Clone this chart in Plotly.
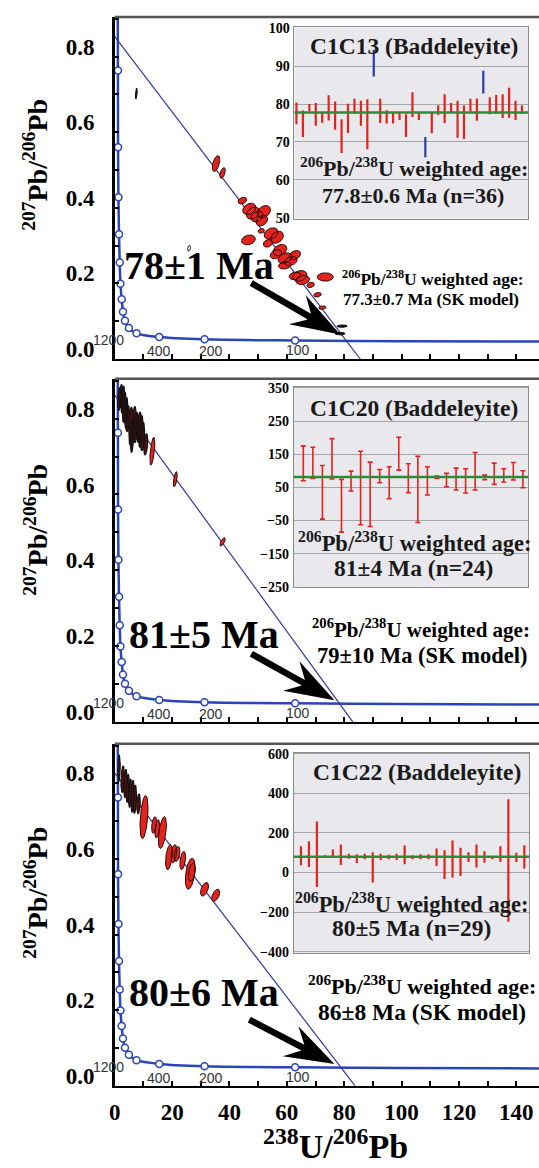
import numpy as np
import plotly.graph_objects as go

W, H = 539, 1168

# ---------------- data ----------------
# Tera-Wasserburg concordia: marker points (238U/206Pb, 207Pb/206Pb)
conc_mark_x = [1.10, 1.14, 1.28, 1.48, 1.72, 1.97, 2.41, 2.86, 3.55, 4.93, 7.59, 15.5, 31.3, 62.9]
conc_mark_y = [0.763, 0.560, 0.428, 0.330, 0.255, 0.199, 0.158, 0.125, 0.101, 0.082, 0.068, 0.058, 0.052, 0.049]
conc_top_x, conc_top_y = [1.02], [0.95]
conc_tail_x, conc_tail_y = [100.0, 150.0], [0.047, 0.046]
conc_age_labels = ["1200", "400", "200", "100"]

# discordia (regression) lines: y-intercept and x-intercept, per panel
disc_y0 = [0.853, 0.862, 0.827]
disc_xint = [85.6, 83.0, 83.8]

# error ellipses: (x, y, half-err x, half-err y, correlation)
ell1_red = [
    (35.3, 0.517, 1.3, 0.021, 0.5), (37.6, 0.492, 0.95, 0.014, 0.5),
    (44.5, 0.419, 1.5, 0.009, 0.3), (46.9, 0.397, 2.3, 0.015, 0.3),
    (48.2, 0.386, 2.3, 0.016, 0.3), (49.6, 0.377, 2.1, 0.014, 0.3),
    (52.0, 0.390, 2.3, 0.016, 0.3), (51.3, 0.366, 2.0, 0.014, 0.3),
    (51.1, 0.339, 1.1, 0.006, 0.2), (46.6, 0.315, 2.4, 0.013, 0.2),
    (54.5, 0.332, 2.4, 0.015, 0.3), (56.6, 0.322, 2.2, 0.016, 0.3),
    (53.4, 0.306, 1.6, 0.010, 0.2), (57.6, 0.288, 2.4, 0.015, 0.3),
    (56.2, 0.277, 2.0, 0.012, 0.3), (59.3, 0.267, 2.4, 0.014, 0.3),
    (62.8, 0.275, 2.0, 0.012, 0.3), (61.4, 0.259, 2.2, 0.012, 0.3),
    (59.3, 0.248, 2.2, 0.010, 0.2), (64.5, 0.220, 2.5, 0.014, 0.2),
    (65.5, 0.209, 2.4, 0.012, 0.2), (62.8, 0.220, 2.0, 0.010, 0.2),
    (68.3, 0.196, 1.3, 0.007, 0.2), (73.4, 0.217, 2.8, 0.011, 0.0),
    (70.7, 0.170, 1.3, 0.006, 0.2), (72.4, 0.136, 1.3, 0.0045, 0.2),
]
ell1_dark = [
    (79.3, 0.087, 1.7, 0.003, 0.0), (78.6, 0.067, 1.7, 0.003, 0.0),
    (7.5, 0.702, 0.3, 0.014, 0.6),
]
ell1_open = [(25.9, 0.293, 0.5, 0.008, 0.3)]

ell2_dark = [
    (1.6, 0.852, 0.6, 0.030, 0.3), (2.2, 0.860, 0.5, 0.030, 0.3),
    (2.8, 0.850, 0.7, 0.036, 0.3), (3.3, 0.830, 0.7, 0.040, 0.3),
    (4.0, 0.815, 0.6, 0.040, 0.3), (4.5, 0.800, 0.7, 0.034, 0.3),
    (5.6, 0.780, 0.7, 0.050, 0.3), (6.0, 0.755, 0.6, 0.044, 0.3),
    (6.8, 0.790, 0.7, 0.042, 0.3), (7.3, 0.777, 0.8, 0.040, 0.4),
    (8.5, 0.777, 0.8, 0.040, 0.4), (9.1, 0.766, 0.8, 0.042, 0.4),
    (9.7, 0.753, 0.7, 0.037, 0.4), (10.8, 0.732, 0.7, 0.028, 0.4),
]
ell2_red = [
    (13.1, 0.714, 0.86, 0.037, 0.6), (21.1, 0.640, 0.7, 0.020, 0.6),
    (37.6, 0.475, 0.93, 0.011, 0.7),
]

ell3_dark = [
    (1.5, 0.840, 0.4, 0.035, 0.3), (2.76, 0.811, 0.6, 0.035, 0.3),
    (3.7, 0.800, 0.6, 0.037, 0.3), (4.5, 0.787, 0.6, 0.037, 0.3),
    (5.3, 0.774, 0.6, 0.037, 0.3), (6.2, 0.766, 0.6, 0.042, 0.3),
    (7.0, 0.758, 0.6, 0.037, 0.3), (8.3, 0.746, 0.6, 0.026, 0.3),
]
ell3_red = [
    (10.2, 0.711, 1.4, 0.057, 0.4), (13.7, 0.690, 0.86, 0.022, 0.4),
    (14.8, 0.680, 0.86, 0.024, 0.4), (16.6, 0.670, 1.4, 0.042, 0.5),
    (18.9, 0.605, 1.2, 0.033, 0.4), (20.6, 0.614, 1.0, 0.024, 0.4),
    (21.7, 0.613, 1.0, 0.020, 0.4), (23.7, 0.596, 1.0, 0.024, 0.4),
    (26.3, 0.561, 1.7, 0.041, 0.4), (26.9, 0.565, 1.2, 0.024, 0.4),
    (31.3, 0.520, 1.4, 0.018, 0.5), (35.2, 0.504, 1.4, 0.016, 0.5),
]

# inset weighted-age plots: high / low of each analysis (Ma)
in1_hi = [80.4, 78.3, 80.0, 80.3, 77.9, 82.3, 80.7, 76.0, 80.1, 81.4, 80.9, 81.3, 94.3, 81.4, 78.4, 77.7, 78.0, 77.3,
          83.1, 77.7, 71.3, 77.9, 79.7, 82.6, 80.3, 80.9, 79.6, 81.4, 81.5, 88.8, 81.8, 82.4, 82.6, 84.3, 80.9, 79.6]
in1_lo = [74.7, 71.3, 78.1, 74.3, 75.1, 75.7, 73.2, 67.1, 72.4, 77.4, 74.3, 68.1, 87.3, 75.0, 74.9, 74.9, 75.8, 71.3,
          76.6, 75.8, 66.0, 72.3, 77.1, 75.0, 77.7, 71.1, 70.8, 78.0, 75.6, 82.8, 77.3, 77.4, 76.3, 76.4, 75.8, 77.4]
in1_rejected = [13, 21, 30]
in1_mean = 77.8

in2_hi = [175, 171, 116, 197, 74, 99, 159, 126, 104, 112, 201, 121, 144, 112, 84, 92, 108, 106, 155, 87, 123, 106, 125, 100]
in2_lo = [70, 77, -46, 75, -85, 39, -63, -68, 64, 16, 102, 34, -56, 27, 77, 52, 42, 33, 42, 73, 59, 66, 72, 49]
in2_mean = 81

in3_hi = [133, 158, 258, 87, 117, 142, 95, 92, 95, 103, 95, 90, 95, 137, 87, 92, 92, 122, 113, 162, 125, 103, 142,
          108, 80, 133, 370, 100, 138]
in3_lo = [37, 28, -73, 73, 78, 38, 70, 48, 67, -50, 63, 67, 63, 42, 67, 67, 67, 33, -33, -25, -17, 53, 25,
          50, 67, 55, -248, 53, 20]
in3_mean = 80

samples = ["C1C13 (Baddeleyite)", "C1C20 (Baddeleyite)", "C1C22 (Baddeleyite)"]
weighted_ages = ["77.8±0.6 Ma (n=36)", "81±4 Ma (n=24)", "80±5 Ma (n=29)"]
sk_ages = ["77.3±0.7 Ma (SK model)", "79±10 Ma (SK model)", "86±8 Ma (SK model)"]
intercept_ages = ["78±1 Ma", "81±5 Ma", "80±6 Ma"]

x_tick_vals = [0, 20, 40, 60, 80, 100, 120, 140]
y_tick_vals = [0.0, 0.2, 0.4, 0.6, 0.8]
y_tick_text = ["0.0", "0.2", "0.4", "0.6", "0.8"]
in_tick_vals = [[50, 60, 70, 80, 90, 100],
                [-250, -150, -50, 50, 150, 250, 350],
                [-400, -200, 0, 200, 400, 600]]

# ---------------- styling / layout helpers ----------------
SERIF = "Liberation Serif"
RED = "#e3231c"
BLUE = "#2a45b8"
LINE_BLUE = "#34389a"
KX, KY = 2.9, 382.5           # px per data unit in the main panels
XMAX = 429 / KX
YMAX = 0.905


def P(px):
    return px / W


def Q(py):
    return 1 - py / H


def axn(n):
    s = "" if n == 1 else str(n)
    return "x" + s, "y" + s, "xaxis" + s, "yaxis" + s


main_dom_y = [[Q(357), Q(11)], [Q(724), Q(377)], [Q(1092), Q(746)]]
panel_bottom = [357, 724, 1092]
in_dom = [([P(291.7), P(528.3)], [Q(215), Q(21.7)]),
          ([P(291), P(528)], [Q(588), Q(385)]),
          ([P(291), P(529)], [Q(958), Q(755)])]
in_xrange = [[0.69, 37.0], [0.0, 24.55], [0.1, 29.6]]
in_yrange = [[49.8, 100.2], [-252, 353.6], [-408, 606]]


def ell_trace(lst, xa, ya, fill, line, lw=1.0):
    xs, ys = [], []
    t = np.linspace(0, 2 * np.pi, 60)
    for (cx, cy, sx, sy, r) in lst:
        xs += list(cx + sx * np.cos(t)) + [None]
        ys += list(cy + sy * (r * np.cos(t) + np.sqrt(1 - r * r) * np.sin(t))) + [None]
    return go.Scatter(x=xs, y=ys, mode="lines", fill="toself", fillcolor=fill,
                      line=dict(color=line, width=lw), xaxis=xa, yaxis=ya,
                      hoverinfo="skip", showlegend=False)


def arrow_path(tail, tip, L=50, Wd=34, sw=6.5, notch=0.72):
    X0, Y0 = tail[0] * KX, tail[1] * KY
    X1, Y1 = tip[0] * KX, tip[1] * KY
    d = np.hypot(X1 - X0, Y1 - Y0)
    ux, uy = (X1 - X0) / d, (Y1 - Y0) / d
    nx, ny = -uy, ux
    pts = [(X1, Y1),
           (X1 - L * ux + Wd / 2 * nx, Y1 - L * uy + Wd / 2 * ny),
           (X1 - notch * L * ux + sw / 2 * nx, Y1 - notch * L * uy + sw / 2 * ny),
           (X0 + sw / 2 * nx, Y0 + sw / 2 * ny),
           (X0 - sw / 2 * nx, Y0 - sw / 2 * ny),
           (X1 - notch * L * ux - sw / 2 * nx, Y1 - notch * L * uy - sw / 2 * ny),
           (X1 - L * ux - Wd / 2 * nx, Y1 - L * uy - Wd / 2 * ny)]
    return "M " + " L ".join(f"{x / KX:.4f},{y / KY:.5f}" for x, y in pts) + " Z"


def text_ann(px, py, txt, size, color="black", bold=True, family=SERIF, xanchor="center", angle=0):
    return dict(x=P(px), y=Q(py), xref="paper", yref="paper", xanchor=xanchor, yanchor="middle",
                text=txt, showarrow=False, textangle=angle,
                font=dict(family=family, size=size, color=color, weight="bold" if bold else "normal"))


fig = go.Figure()
layout = dict(width=W, height=H, margin=dict(l=0, r=0, t=0, b=0),
              font=dict(family=SERIF, color="black"),
              paper_bgcolor="white", plot_bgcolor="rgba(0,0,0,0)", showlegend=False)
shapes, annotations = [], []

conc_line_x = conc_top_x + conc_mark_x + conc_tail_x
conc_line_y = conc_top_y + conc_mark_y + conc_tail_y

ell_sets = [(ell1_red, ell1_dark, ell1_open), (ell2_red, ell2_dark, []), (ell3_red, ell3_dark, [])]
arrows = [((47.6, 0.201), (78.6, 0.065)), ((47.6, 0.180), (76.6, 0.0575)), ((46.9, 0.175), (76.6, 0.0575))]
big_label_pos = [(117, 262), (122, 636), (122, 998)]
sk_pos = [((432, 275.5), (430, 297), 17.5, 17), ((420, 630), (421, 657), 21, 22.5),
          ((421, 990), (421, 1017), 22, 23.5)]
in_text_pos = [((413, 40), (413, 163), (412, 192)),
               ((413, 407), (414, 542), (412, 568)),
               ((416, 775), (411, 907), (410, 932))]
in_text_size = [(23.5, 22, 22), (23.5, 22.5, 23.5), (23.5, 22.5, 23.5)]
ytitle_pos = [161, 530, 897]
conc_label_px = [(104, 19.5), (155, 8), (207, 8), (295, 9)]

for i in range(3):
    n = i + 1
    xa, ya, xk, yk = axn(n)
    # concordia
    fig.add_trace(go.Scatter(x=conc_line_x, y=conc_line_y, mode="lines",
                             line=dict(color=BLUE, width=2.5, shape="spline", smoothing=0.8),
                             xaxis=xa, yaxis=ya, hoverinfo="skip"))
    # discordia
    fig.add_trace(go.Scatter(x=[0, disc_xint[i]], y=[disc_y0[i], 0], mode="lines",
                             line=dict(color=LINE_BLUE, width=1.2), xaxis=xa, yaxis=ya, hoverinfo="skip"))
    red, dark, opn = ell_sets[i]
    if dark:
        fig.add_trace(ell_trace(dark, xa, ya, "#5a1010" if i != 0 else "#111111", "#111111", 1.2))
    if red:
        fig.add_trace(ell_trace(red, xa, ya, RED, "#2a0a0a", 1.0))
    if opn:
        fig.add_trace(ell_trace(opn, xa, ya, "white", "#222222", 1.0))
    fig.add_trace(go.Scatter(x=conc_mark_x, y=conc_mark_y, mode="markers",
                             marker=dict(size=7, color="white", line=dict(color=BLUE, width=1.5)),
                             xaxis=xa, yaxis=ya, hoverinfo="skip"))

    layout[xk] = dict(
        domain=[P(110), 1.0], range=[0, XMAX], anchor=ya, showline=True, linecolor="black", linewidth=2,
        ticks="inside", ticklen=5, tickwidth=1.5, tickcolor="black", tickvals=x_tick_vals,
        showticklabels=(n == 3), showgrid=False, zeroline=False,
        minor=dict(ticks="inside", ticklen=5, tickwidth=1.5, tickcolor="black", dtick=10, showgrid=False),
        tickfont=dict(family=SERIF, size=23, color="black", weight="bold"), ticklabelstandoff=5)
    layout[yk] = dict(
        domain=main_dom_y[i], range=[0, YMAX], anchor=xa, showline=True, linecolor="black", linewidth=2.5,
        ticks="inside", ticklen=4, tickwidth=1.5, tickcolor="black", tickvals=y_tick_vals, ticktext=y_tick_text,
        showgrid=False, zeroline=False,
        minor=dict(ticks="inside", ticklen=4, tickwidth=1.5, tickcolor="black", dtick=0.1, showgrid=False),
        tickfont=dict(family=SERIF, size=23, color="black", weight="bold"),
        ticklabelstandoff=13, ticklabelshift=-10)

    # top border
    shapes.append(dict(type="line", xref=f"{xa} domain", yref=f"{ya} domain", x0=0, x1=1, y0=1, y1=1,
                       line=dict(color="#555555", width=2.5)))
    # arrow
    shapes.append(dict(type="path", xref=xa, yref=ya, path=arrow_path(*arrows[i]),
                       fillcolor="black", line=dict(width=0)))

    # concordia age labels
    for txt, (lx, dy) in zip(conc_age_labels, conc_label_px):
        annotations.append(text_ann(lx, panel_bottom[i] - dy, txt, 14, color="#333333", bold=False,
                                    family="Liberation Sans"))

    # big intercept age
    bx, by = big_label_pos[i]
    annotations.append(text_ann(bx, by, intercept_ages[i], 40, xanchor="left"))
    # SK model text
    (s1x, s1y), (s2x, s2y), fs1, fs2 = sk_pos[i]
    annotations.append(text_ann(s1x, s1y, "<sup>206</sup>Pb/<sup>238</sup>U weighted age:", fs1))
    annotations.append(text_ann(s2x, s2y, sk_ages[i], fs2))
    # y axis title
    annotations.append(text_ann(30, ytitle_pos[i], "<sup>207</sup>Pb/<sup>206</sup>Pb", 28, angle=-90))

# ---------------- insets ----------------
ins_hi = [in1_hi, in2_hi, in3_hi]
ins_lo = [in1_lo, in2_lo, in3_lo]
ins_mean = [in1_mean, in2_mean, in3_mean]
for i in range(3):
    n = i + 4
    xa, ya, xk, yk = axn(n)
    hi, lo = np.array(ins_hi[i], float), np.array(ins_lo[i], float)
    idx = np.arange(1, len(hi) + 1)
    mid = (hi + lo) / 2
    rej = np.isin(idx, in1_rejected) if i == 0 else np.zeros(len(hi), bool)
    cap = 2.5 if i == 1 else 0
    th = 1.6 if i == 1 else 2.2
    for mask, col in [(~rej, RED), (rej, "#2b3fa6")]:
        if mask.any():
            fig.add_trace(go.Scatter(
                x=idx[mask], y=mid[mask], mode="markers",
                marker=dict(size=1, color="rgba(0,0,0,0)"),
                error_y=dict(type="data", symmetric=False, array=(hi - mid)[mask], arrayminus=(mid - lo)[mask],
                             color=col, thickness=th, width=cap),
                xaxis=xa, yaxis=ya, hoverinfo="skip"))
    (dx, dy) = in_dom[i]
    layout[xk] = dict(domain=dx, range=in_xrange[i], anchor=ya, showline=True, mirror=True,
                      linecolor="#8a8a8a", linewidth=1, showticklabels=False, ticks="",
                      showgrid=False, zeroline=False)
    layout[yk] = dict(domain=dy, range=in_yrange[i], anchor=xa, showline=True, mirror=True,
                      linecolor="#8a8a8a", linewidth=1, tickvals=in_tick_vals[i], ticks="",
                      showgrid=True, gridcolor="#a6a6a6", gridwidth=1, zeroline=False,
                      tickfont=dict(family=SERIF, size=14, color="black", weight="bold"),
                      ticklabelstandoff=1)
    shapes.append(dict(type="rect", xref=f"{xa} domain", yref=f"{ya} domain", x0=0, x1=1, y0=0, y1=1,
                       fillcolor="#e8e8ed", line=dict(width=0), layer="below"))
    shapes.append(dict(type="line", xref=f"{xa} domain", yref=ya, x0=0, x1=1, y0=ins_mean[i], y1=ins_mean[i],
                       line=dict(color="#2e8b3a", width=2.5)))
    (tx, ty), (l1x, l1y), (l2x, l2y) = in_text_pos[i]
    f0, f1, f2 = in_text_size[i]
    annotations.append(text_ann(tx, ty, samples[i], f0, color="#1a1a1a"))
    annotations.append(text_ann(l1x, l1y, "<sup>206</sup>Pb/<sup>238</sup>U weighted age:", f1, color="#1a1a1a"))
    annotations.append(text_ann(l2x, l2y, weighted_ages[i], f2, color="#1a1a1a"))

# x axis title
annotations.append(text_ann(333, 1151, "<sup>238</sup>U/<sup>206</sup>Pb", 34))

layout["shapes"] = shapes
layout["annotations"] = annotations
fig.update_layout(**layout)
fig.write_html("out.html")
